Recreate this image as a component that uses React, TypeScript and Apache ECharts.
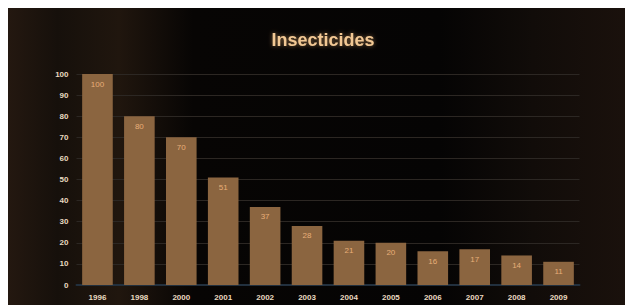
import React, { useEffect, useRef } from "react";
import * as echarts from "echarts";

const categories = ["1996", "1998", "2000", "2001", "2002", "2003", "2004", "2005", "2006", "2007", "2008", "2009"];
const values = [100, 80, 70, 51, 37, 28, 21, 20, 16, 17, 14, 11];
const title = "Insecticides";

export default function App() {
  const ref = useRef<HTMLDivElement>(null);
  useEffect(() => {
    if (!ref.current) return;
    const chart = echarts.init(ref.current, undefined, { renderer: "svg" });
    chart.setOption({
      animation: false,
      backgroundColor: {
        type: "linear",
        x: 0, y: 0, x2: 1, y2: 0,
        colorStops: [
          { offset: 0, color: "#241810" },
          { offset: 0.08, color: "#16100b" },
          { offset: 0.18, color: "#20160e" },
          { offset: 0.3, color: "#070504" },
          { offset: 0.7, color: "#050404" },
          { offset: 0.85, color: "#110c09" },
          { offset: 1, color: "#1a110c" },
        ],
      },
      title: {
        text: title,
        left: 310,
        top: 18,
        textAlign: "center",
        textStyle: {
          color: "#f2c894",
          fontSize: 18,
          fontWeight: "bold",
          fontFamily: "Liberation Sans, Arial, sans-serif",
          textShadowColor: "rgba(255,190,120,0.5)",
          textShadowBlur: 4,
        },
      },
      grid: { left: 68.5, right: 45.5, top: 66, bottom: 20, containLabel: false },
      xAxis: {
        type: "category",
        data: categories,
        axisLine: { show: true, lineStyle: { color: "#22303e", width: 2 } },
        axisTick: { show: false },
        axisLabel: {
          color: "#eadac0",
          fontSize: 8,
          fontWeight: "bold",
          fontFamily: "Liberation Sans, Arial, sans-serif",
          margin: 8,
        },
      },
      yAxis: {
        type: "value",
        min: 0,
        max: 100,
        interval: 10,
        axisLine: { show: false },
        axisTick: { show: false },
        splitLine: { show: true, lineStyle: { color: "#2c2723", width: 1 } },
        axisLabel: {
          color: "#eadac0",
          fontSize: 8,
          fontWeight: "bold",
          fontFamily: "Liberation Sans, Arial, sans-serif",
          margin: 8,
        },
      },
      series: [
        {
          type: "bar",
          data: values,
          barCategoryGap: "27%",
          itemStyle: { color: "#8b6540" },
          label: {
            show: true,
            position: "insideTop",
            distance: 6,
            color: "#e8ae78",
            fontSize: 8,
            fontFamily: "Liberation Sans, Arial, sans-serif",
          },
        },
      ],
    });
    return () => chart.dispose();
  }, []);
  return (
    <div
      ref={ref}
      style={{ position: "absolute", left: 8, top: 8, width: 617, height: 297 }}
    />
  );
}
